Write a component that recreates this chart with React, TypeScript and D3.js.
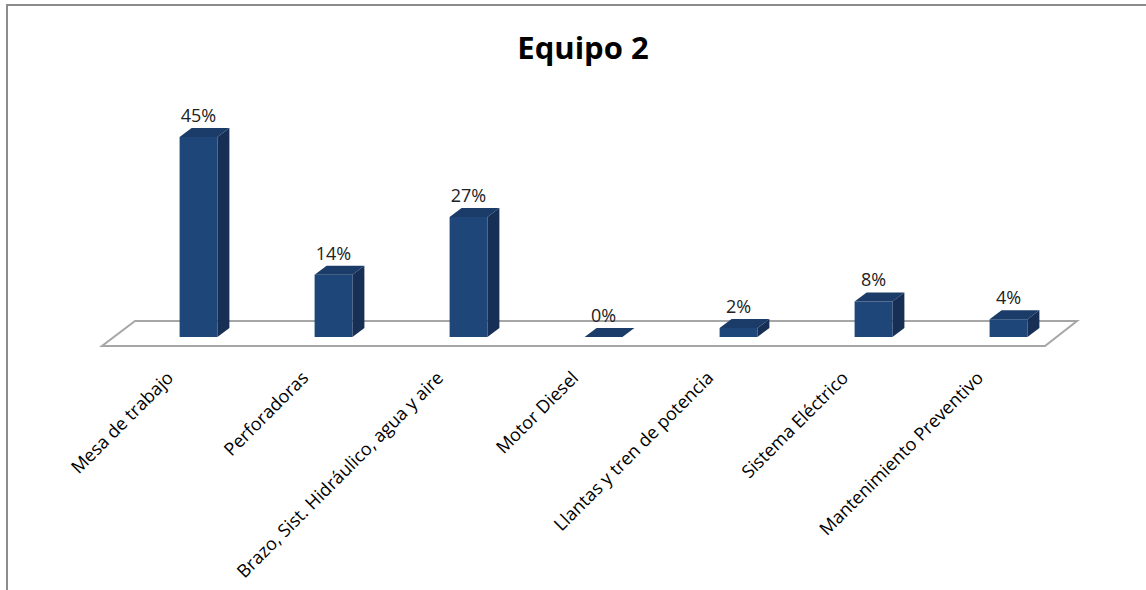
import React from "react";
import * as d3 from "d3";

const categories = [
  "Mesa de trabajo",
  "Perforadoras",
  "Brazo, Sist. Hidráulico, agua y aire",
  "Motor Diesel",
  "Llantas y tren de potencia",
  "Sistema Eléctrico",
  "Mantenimiento Preventivo",
];
const values = [45, 14, 27, 0, 2, 8, 4];
const valueLabels = ["45%", "14%", "27%", "0%", "2%", "8%", "4%"];
const title = "Equipo 2";

const W = 1146;
const H = 590;
const baseY = 337;
const depthX = 12;
const depthY = 9;
const FONT = "'Open Sans', 'Noto Sans', sans-serif";

export default function App() {
  const x = d3
    .scaleBand<string>()
    .domain(categories)
    .range([131, 1076])
    .paddingInner(0.72)
    .paddingOuter(0.36);
  const y = d3.scaleLinear().domain([0, 45]).range([baseY, 137]);
  const bw = x.bandwidth();

  const floor = "M102,346 L1045,346 L1077,321 L135,321 Z";

  return (
    <svg
      width={W}
      height={H}
      style={{ position: "absolute", left: 0, top: 0, background: "#fff" }}
    >
      <rect x={7} y={5} width={W + 10} height={H + 10} fill="#fff" stroke="#8c8c8c" strokeWidth={2} />
      <text
        x={583}
        y={59}
        textAnchor="middle"
        fontFamily={FONT}
        fontWeight="bold"
        fontSize={31}
        fill="#000"
      >
        {title}
      </text>
      <path d={floor} fill="none" stroke="#a6a6a6" strokeWidth={2} />
      {categories.map((c, i) => {
        const x0 = x(c)!;
        const x1 = x0 + bw;
        const yt = y(values[i]);
        const front = `M${x0},${baseY} L${x1},${baseY} L${x1},${yt} L${x0},${yt} Z`;
        const top = `M${x0},${yt} L${x1},${yt} L${x1 + depthX},${yt - depthY} L${x0 + depthX},${yt - depthY} Z`;
        const side = `M${x1},${baseY} L${x1 + depthX},${baseY - depthY} L${x1 + depthX},${yt - depthY} L${x1},${yt} Z`;
        const cx = x0 + bw / 2;
        return (
          <g key={c}>
            <path d={side} fill="#172f55" />
            <path d={front} fill="#1f4679" />
            <path d={top} fill="#1b3c68" />
            <text
              x={cx}
              y={yt - depthY - 6}
              textAnchor="middle"
              fontFamily={FONT}
              fontSize={18}
              fill="#222"
            >
              {valueLabels[i]}
            </text>
            <text
              transform={`translate(${cx - 24},${379}) rotate(-45)`}
              textAnchor="end"
              fontFamily={FONT}
              fontSize={18}
              fill="#000"
            >
              {c}
            </text>
          </g>
        );
      })}
    </svg>
  );
}
